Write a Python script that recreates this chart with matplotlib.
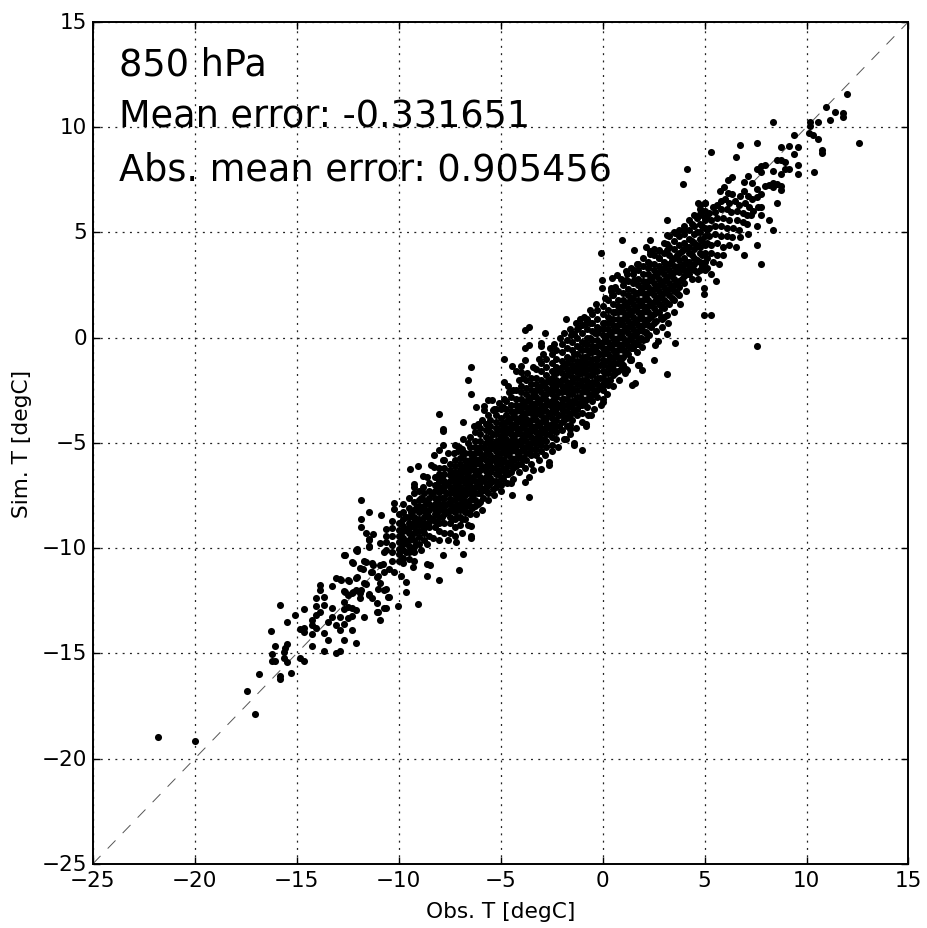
# -*- coding: utf-8 -*-
"""
scatter of simulated against observed temperature at 850 hPa
"""

import matplotlib
matplotlib.use('Agg')
from matplotlib import pyplot as plt

# single points, read one by one (obs, sim)
tail_points = [(-21.8,-18.95),(-20,-19.15),(-17.44,-16.8),(-17.04,-17.9),(-16.85,-16),(-15.84,-12.7),
    (-16.25,-13.95),(-15.45,-13.52),(-15.06,-13.17),(-14.66,-12.87),(-16.04,-14.63),(-15.45,-14.54),
    (-16.23,-15.03),(-15.63,-14.94),(-15.63,-15.2),(-15.45,-15.43),(-16.23,-15.37),(-16.04,-15.37),
    (-15.84,-16.06),(-15.84,-16.2),(-15.26,-15.95),(-14.85,-15.24),(-14.66,-15.37),(-14.85,-13.86),
    (-14.66,-13.8),(-14.66,-14),(-14.27,-14.1),(-14.27,-14.63),(-14.06,-12.35),(-13.67,-12.32),
    (-14.06,-12.75),(-13.67,-12.7),(-13.87,-11.75),(-13.87,-12),(-13.27,-11.78),(-13.07,-11.4),
    (-12.88,-11.46),(-12.47,-11.5),(-13.27,-12.83),(-15.55,-14.75),(-14.27,-13.65),(-14.27,-13.4),
    (-14.06,-13.17),(-13.87,-13.05),(-14.06,-13.78),(-13.46,-13.52),(-13.67,-14.02),(-13.46,-14.36),
    (-13.67,-14.9),(-13.07,-14.97),(-12.88,-14.87),(-13.07,-13.65),(-12.88,-13.25),(-12.88,-13.89),
    (-12.67,-14.36),(-12.09,-14.49),(-12.28,-13.89),(-13.27,-13.25),(-12.67,-13.62),(-12.47,-13.33),
    (-12.28,-13.2),(-12.67,-12.89),(-12.47,-12.78),(-12.28,-12.86),(-12.09,-12.94),(-11.68,-13.29),
    (-11.08,-13.05),(-10.89,-13.41),(-10.7,-12.83)]

low_points = [(-12.67,-12.03),(-12.47,-12.22),(-12.67,-12.54),(-12.28,-12.14),(-12.09,-11.98),(-11.88,-12.14),
    (-12.67,-10.32),(-12.28,-10.67),(-11.88,-10.95),(-12.09,-10.08),(-11.47,-9.92),(-11.47,-9.6),
    (-11.68,-10.6),(-11.31,-10.71),(-11.31,-11.11),(-11.08,-11.35),(-11.68,-11.67),(-12.09,-11.43),
    (-11.88,-12.38),(-11.47,-12.22),(-11.31,-12.38),(-11.08,-12.62),(-10.89,-9.76),(-10.7,-10.16),
    (-10.89,-10.79),(-10.7,-11.11),(-10.89,-11.67),(-10.7,-11.98),(-10.5,-12.3),(-12.43,-11.54),
    (-12.84,-11.5),(-12.64,-12.06),(-12.26,-12.1),(-11.85,-12.0),(-11.44,-12.17),(-11.6,-10.66),
    (-11.28,-10.82),(-11.03,-11.3),(-11.36,-11.14),(-10.79,-10.74),(-10.46,-10.98),(-10.21,-11.14),
    (-9.89,-11.3),(-9.64,-11.62),(-9.64,-12.06),(-10.05,-12.76),(-10.62,-12.85),(-11.03,-13.04),
    (-10.46,-12.3),(-10.62,-11.93),(-11.03,-11.93),(-11.6,-11.7),(-12.02,-11.38),(-11.77,-10.98),
    (-11.84,-7.73),(-11.44,-8.29),(-10.84,-8.45),(-11.84,-8.64),(-11.84,-9),(-11.6,-9.27),(-11.28,-9.32),
    (-11.44,-9.56),(-12.03,-10.03),(-12.03,-10.14),(-11.44,-9.95),(-10.64,-9.43),(-12.64,-10.32),(-12.26,-10.7)]

# stragglers on both sides of the main band
mid_points = [(-6.43,-1.41),(-6.62,-2.01),(-6.43,-2.66),(-8.03,-3.63),(-7.84,-4.33),(-7.84,-4.45),(-6.82,-4.03),
    (-6.82,-4.8),(-6.23,-3.3),(-5.82,-3.25),(-5.82,-3.45),(-5.62,-2.95),(-5.43,-2.98),(-5.38,-3.45),(-5.21,-3.38),
    (-4.84,-1.0),(-4.84,-2.11),(-4.64,-2.31),(-4.84,-2.9),(-4.43,-1.36),(-4.02,-1.36),(-3.8,-1.08),(-4.23,-1.6),
    (-4.02,-1.63),(-3.8,-0.49),(-3.6,-0.33),(-3.8,0.38),(-3.6,0.52),(-2.82,0.2),(-3.02,-0.24),(-3.02,-0.4),
    (-1.8,0.9),(-1.2,0.46),(-0.79,0.67),(-0.6,0.71),(-1.57,0.11),(-1.39,0.19),(-9.03,-12.65),(-8.03,-11.5),
    (-8.62,-11.3),(-7.02,-11.06),(-6.82,-10.27),(-7.84,-10.32),(-8.62,-10.74),(-8.46,-10.79),(-6.43,-8.95),
    (-6.43,-9.4),(-6.43,-9.5),(-4.43,-7.5),(-3.6,-7.58),(-3.82,-6.86),(-3.6,-6.64),(-3,-6.23),(-2.62,-5.91),
    (-2.62,-6.04),(-1,-5.33),(-1.41,-5),(-1.41,-5.12),(-1.8,-4.83),(-0.59,-3.69),(-0.79,-4.09),(-0.79,-4.22),
    (-1.6,-4.17),(-1.6,-4.36),(0,-2.9),(0,-3.06),(1.43,-2.27),(1.59,-2.14),(1.75,-1.32),(1.39,-1.08),(1.18,-1.55),
    (-9.44,-6.26),(-9.03,-6.12),(-8.82,-6.58),(-8.62,-6.64),(-9.23,-6.97),(-9.23,-7.1),(-8.82,-7.1),(-10.21,-7.84),
    (-10.21,-8.13),(-9.8,-7.9),(-8.25,-5.6),(-8.03,-5.36),(-8.41,-6.07),(-8.25,-6.15),(-7.84,-5.09),(-7.26,-5.09),
    (-7.02,-5.2),(-6.82,-5.52),(-7.84,-5.83)]

high_points = [(11.97,11.55),(10.97,10.95),(11.38,10.71),(11.77,10.68),(11.77,10.46),(11.16,10.33),(10.56,10.24),
    (10.16,10.24),(10.16,10.05),(8.36,10.24),(12.59,9.26),(10.13,9.72),(10.33,9.6),(10.56,9.45),(10.77,8.92),
    (10.77,8.75),(10.36,7.85),(9.38,9.6),(7.56,9.22),(6.75,9.16),(5.34,8.83),(6.54,8.56),(8.75,9.03),(9.16,9.1),
    (9.56,9.05),(9.38,8.73),(8.56,8.45),(8.75,8.42),(8.95,8.34),(9.56,8.21),(8.95,8.02),(9.16,7.99),(9.56,7.75),
    (8.75,7.75),(8.36,7.91),(7.56,7.99),(7.75,8.15),(7.95,8.21),(7.75,7.86),(4.15,7.99),(3.95,7.29),(6.36,7.63),
    (6.15,7.47),(7.15,7.66),(6.95,7.39),(7.34,7.34),(7.95,7.2),(8.16,7.26),(8.36,7.36),(8.56,7.31),(8.75,7.2),
    (8.75,7),(8.36,7.15),(5.95,7.15),(5.75,6.96),(6.15,6.88),(6.36,6.8),(6.95,6.96),(6.75,6.72),(7.15,6.72),
    (7.56,7.04),(7.75,6.8),(7.34,6.57),(7.56,6.68),(8.56,6.38),(7.75,6.19),(7.75,5.81),(8.16,5.6),(7.56,5.3),
    (8.36,5.09),(7.56,4.41),(7.75,3.51),(6.95,3.92),(6.54,4.29),(7.15,4.92),(6.75,4.76),(6.36,4.76),(5.34,1.09),
    (4.95,1.09),(7.56,-0.41),(3.15,5.59),(3.54,4.97),(0.93,4.62),(2.34,4.62),(1.54,4.18),(2.13,4.3),(2.34,4.13),
    (-0.07,4.0),(0.93,3.51),(1.74,3.51),(1.13,3.16),(1.52,3.2),(1.13,2.72),(1.52,2.72),(0.7,2.96),(0.46,2.85),
    (-0.03,2.72),(-0.03,2.33),(0.42,2.33),(0.46,2.0),(2.34,3.95),(2.34,3.51),(2.75,4.15),(2.75,3.76),(3.16,4.86),
    (3.16,4.46),(3.16,4.15),(3.98,5.13),(3.15,0.17),(3.54,-0.24),(2.72,-0.17),(2.56,-0.36),(2.13,0.27),(2.13,-0.05),
    (1.93,-0.44),(2.54,-1.06),(1.33,-1.08),(1.77,-1.31),(1.93,-1.55),(1.15,-1.5),(0.92,-1.23),(3.15,-1.72),
    (4.97,2.33),(4.97,2.09),(5.54,2.69),(5.34,3),(3.16,1.09),(2.92,0.9),
    (4.7,6.37),(5.0,6.37),(5.4,6.2),(5.6,6.3),(5.8,6.5),(6.0,6.6),(6.2,6.4),(6.5,6.5),(6.7,6.3),(7.0,6.4),(7.2,6.2),
    (7.4,6.0),(7.6,6.2),(4.8,6.1),(5.2,5.9),(5.5,5.95),(5.8,6.1),(6.1,6.1),(6.3,5.95),(6.6,6.0),(6.9,5.9),(7.1,5.8),
    (7.3,5.8),(4.8,5.85),(5.0,5.7),(5.3,5.6),(5.6,5.7),(5.9,5.7),(6.2,5.6),(6.6,5.6),(6.9,5.5),(7.1,5.4),
    (5.2,5.2),(5.5,5.3),(5.8,5.3),(6.1,5.2),(6.4,5.2),(6.7,5.1),(5.2,4.8),(5.5,4.9),(5.8,4.8),(6.1,4.8),(5.3,4.4),
    (5.6,4.5),(5.9,4.3),(6.2,4.4),(5.3,4.0),(5.6,3.9),(5.9,3.9),(5.4,3.6),(5.7,3.5)]

# upper and lower rim of the dense cloud
upper_rim = [(-7.6,-5.5),(-7.3,-5.5),(-7.1,-5.4),(-6.9,-5.3),(-6.6,-5.0),(-6.3,-4.2),(-6.1,-4.1),(-5.9,-3.9),(-5.6,-3.7),
    (-5.3,-3.4),(-5.1,-3.1),(-4.9,-3.3),(-4.6,-2.6),(-4.4,-2.5),(-4.1,-2.0),(-3.9,-1.9),(-3.7,-1.7),(-3.4,-1.4),(-3.1,-1.0),
    (-2.9,-0.8),(-2.6,-0.5),(-2.4,-0.3),(-2.1,0.0),(-1.9,0.2),(-1.6,0.4),(-1.3,0.7),(-1.1,0.9),(-0.9,1.0),(-0.6,1.3),
    (-0.3,1.6),(0.1,1.9),(0.4,2.2),(0.6,2.4),(0.9,2.8),(1.2,3.0),(1.4,3.3),(1.7,3.5),(2.0,3.8),(2.5,4.2)]

lower_rim = [(-9.3,-10.9),(-8.9,-10.1),(-8.6,-9.8),(-8.3,-9.5),(-8.0,-9.6),(-7.6,-9.6),(-7.2,-9.7),(-6.9,-9.3),(-6.6,-8.9),
    (-6.2,-8.4),(-5.9,-8.2),(-5.6,-7.7),(-5.3,-7.5),(-5.0,-7.3),(-4.7,-6.9),(-4.4,-6.7),(-4.1,-6.4),(-3.8,-6.2),(-3.4,-6.3),
    (-3.1,-5.8),(-2.8,-5.6),(-2.5,-5.4),(-2.2,-5.2),(-1.9,-4.8),(-1.6,-4.6),(-1.3,-4.3),(-1,-4.0),(-0.7,-3.7),(-0.4,-3.4),
    (-0.1,-3.2),(0.2,-2.7),(0.5,-2.3),(0.8,-2.0),(1.1,-1.7),(1.4,-1.0),(1.7,-0.7),(2.0,-0.1),(2.3,0.1),(2.6,0.3),(2.9,0.5),
    (3.2,0.7),(3.5,1.2),(3.8,1.6),(4.1,2.2),(4.4,2.8),(4.7,2.8)]

# dense band, obs value with the sim values stacked above it
band_west = [(-10.6,[-9.1,-9.7,-10.1]),(-10.32,[-8.7,-9.05,-9.4,-9.85,-10.2,-10.6]),
    (-10.0,[-8.4,-8.8,-9.15,-9.4,-9.7,-10.05,-10.3,-10.6]),(-9.77,[-8.3,-8.6,-8.95,-9.2,-9.5,-9.8,-10.1,-10.45,-10.7]),
    (-9.5,[-7.6,-8.1,-8.5,-8.8,-9.05,-9.3,-9.6,-9.9,-10.2,-10.5]),(-9.24,[-7.4,-7.8,-8.2,-8.5,-8.75,-9.0,-9.3,-9.6,-9.95,-10.2,-10.6]),
    (-9.0,[-7.3,-7.7,-8.0,-8.3,-8.6,-8.9,-9.2,-9.45,-9.8]),(-8.77,[-7.4,-7.7,-8.0,-8.25,-8.5,-8.8,-9.05,-9.3,-9.6]),
    (-8.5,[-6.9,-7.3,-7.6,-7.9,-8.2,-8.5,-8.75,-9.0,-9.4]),(-8.23,[-6.6,-7.0,-7.3,-7.6,-7.9,-8.15,-8.4,-8.7,-9.0]),
    (-8.0,[-6.2,-6.5,-6.8,-7.1,-7.35,-7.6,-7.9,-8.2,-8.5,-8.8,-9.2]),(-7.76,[-5.8,-6.2,-6.5,-6.8,-7.05,-7.3,-7.6,-7.9,-8.15,-8.4,-8.8,-9.3]),
    (-7.5,[-6.0,-6.3,-6.55,-6.8,-7.1,-7.4,-7.65,-7.9,-8.2,-8.5,-8.8,-9.3]),(-7.24,[-5.8,-6.1,-6.4,-6.65,-6.9,-7.2,-7.45,-7.7,-8.0,-8.3,-8.6,-9.0,-9.4]),
    (-7.0,[-5.7,-6.0,-6.3,-6.55,-6.8,-7.1,-7.35,-7.6,-7.9,-8.2,-8.5,-8.9]),(-6.76,[-5.5,-5.8,-6.1,-6.4,-6.65,-6.9,-7.2,-7.5,-7.75,-8.0,-8.3,-8.6]),
    (-6.5,[-4.7,-5.2,-5.5,-5.8,-6.05,-6.3,-6.6,-6.85,-7.1,-7.4,-7.7,-8.0,-8.4]),(-6.25,[-4.5,-4.9,-5.2,-5.5,-5.75,-6.0,-6.3,-6.55,-6.8,-7.1,-7.4,-7.7,-8.0]),
    (-6.0,[-4.3,-4.6,-4.9,-5.2,-5.5,-5.75,-6.0,-6.3,-6.6,-6.85,-7.1,-7.4,-7.8]),(-5.74,[-4.1,-4.4,-4.7,-5.0,-5.3,-5.55,-5.8,-6.1,-6.35,-6.6,-6.9,-7.15,-7.3]),
    (-5.5,[-3.9,-4.2,-4.5,-4.8,-5.05,-5.3,-5.6,-5.85,-6.1,-6.4,-6.65,-6.9])]

band_centre = [(-5.25,[-3.7,-4.0,-4.3,-4.6,-4.9,-5.15,-5.4,-5.65,-5.9,-6.2,-6.5,-6.8,-7.1]),(-5.0,[-3.4,-3.8,-4.1,-4.4,-4.7,-4.95,-5.2,-5.5,-5.75,-6.0,-6.3,-6.6,-7.0]),
    (-4.75,[-3.0,-3.4,-3.7,-4,-4.3,-4.55,-4.8,-5.1,-5.35,-5.6,-5.9,-6.2,-6.5]),(-4.5,[-2.8,-3.2,-3.5,-3.8,-4.1,-4.35,-4.6,-4.9,-5.15,-5.4,-5.7,-6.0,-6.4,-6.9]),
    (-4.26,[-2.5,-2.9,-3.2,-3.5,-3.8,-4.05,-4.3,-4.6,-4.9,-5.15,-5.4,-5.7,-6.1]),(-4.0,[-2.3,-2.6,-2.9,-3.2,-3.5,-3.75,-4.0,-4.3,-4.6,-4.85,-5.1,-5.4,-5.7,-6.0]),
    (-3.75,[-2.0,-2.4,-2.7,-3,-3.3,-3.6,-3.85,-4.1,-4.4,-4.65,-4.9,-5.2,-5.5,-5.8]),(-3.5,[-1.9,-2.2,-2.5,-2.8,-3.1,-3.35,-3.6,-3.9,-4.2,-4.45,-4.7,-5,-5.3,-5.6,-6.0]),
    (-3.24,[-1.5,-1.9,-2.2,-2.5,-2.8,-3.1,-3.4,-3.65,-3.9,-4.2,-4.5,-4.75,-5,-5.3,-5.6]),(-3.0,[-1.2,-1.6,-2,-2.3,-2.6,-2.9,-3.2,-3.45,-3.7,-4,-4.3,-4.55,-4.8,-5.1,-5.4]),
    (-2.75,[-1.0,-1.4,-1.8,-2.1,-2.4,-2.7,-2.95,-3.2,-3.5,-3.8,-4.05,-4.3,-4.6,-4.9,-5.2]),(-2.5,[-0.8,-1.2,-1.6,-1.9,-2.2,-2.45,-2.7,-3,-3.3,-3.55,-3.8,-4.1,-4.4,-4.7,-5.1]),
    (-2.26,[-0.6,-1,-1.4,-1.7,-2,-2.25,-2.5,-2.8,-3.1,-3.35,-3.6,-3.9,-4.2,-4.5,-4.8]),(-2.0,[-0.3,-0.7,-1.1,-1.4,-1.7,-2,-2.3,-2.6,-2.9,-3.15,-3.4,-3.7,-4,-4.4]),
    (-1.75,[-0.1,-0.5,-0.9,-1.2,-1.5,-1.8,-2.1,-2.35,-2.6,-2.9,-3.2,-3.5,-3.8,-4.2]),(-1.5,[0.2,-0.2,-0.6,-1,-1.3,-1.6,-1.85,-2.1,-2.4,-2.7,-3,-3.3,-3.6,-3.9]),
    (-1.24,[0.4,0,-0.4,-0.8,-1.1,-1.4,-1.65,-1.9,-2.2,-2.5,-2.8,-3.1,-3.4,-3.7]),(-1.0,[0.6,0.2,-0.2,-0.6,-0.9,-1.15,-1.4,-1.7,-2,-2.3,-2.6,-2.9,-3.2,-3.6]),
    (-0.75,[0.9,0.4,0,-0.3,-0.6,-0.9,-1.2,-1.5,-1.8,-2.05,-2.3,-2.6,-2.9,-3.3]),(-0.5,[1.1,0.7,0.3,-0.1,-0.4,-0.7,-1,-1.3,-1.55,-1.8,-2.1,-2.4,-2.7,-3.0]),
    (-0.25,[1.3,0.9,0.5,0.2,-0.1,-0.4,-0.7,-1,-1.3,-1.6,-1.9,-2.2,-2.5,-2.8])]

band_east = [(0.0,[1.5,1.1,0.7,0.4,0.1,-0.2,-0.5,-0.8,-1.05,-1.3,-1.6,-1.9,-2.2,-2.5]),(0.25,[1.8,1.3,1,0.7,0.4,0.1,-0.2,-0.5,-0.8,-1.1,-1.4,-1.7,-2,-2.25]),
    (0.5,[2,1.6,1.2,0.9,0.6,0.3,0,-0.3,-0.6,-0.9,-1.2,-1.5,-1.8]),(0.76,[2.2,1.8,1.5,1.2,0.9,0.6,0.3,0,-0.3,-0.6,-0.9,-1.2,-1.6]),
    (1.0,[2.5,2.1,1.8,1.5,1.2,0.9,0.6,0.3,0,-0.3,-0.6,-0.9,-1.3]),(1.25,[2.7,2.3,2,1.7,1.4,1.1,0.8,0.5,0.2,-0.1,-0.4,-0.8]),
    (1.5,[3,2.6,2.2,1.9,1.6,1.3,1,0.7,0.4,0.1,-0.2,-0.5]),(1.74,[3.2,2.8,2.5,2.1,1.8,1.5,1.2,0.9,0.6,0.3,0,-0.3]),
    (2.0,[3.4,3,2.7,2.4,2.1,1.8,1.5,1.2,0.9,0.6,0.3]),(2.25,[3.6,3.3,3,2.7,2.4,2.1,1.8,1.5,1.2,0.9,0.6]),
    (2.5,[3.9,3.5,3.2,2.9,2.6,2.3,2,1.7,1.4,1.1,0.7]),(2.76,[4.1,3.8,3.4,3.1,2.8,2.5,2.2,1.9,1.6,1.2]),
    (3.0,[4.5,4,3.6,3.3,3,2.7,2.4,2.1,1.8,1.4,1.0]),(3.25,[4.8,4.3,3.9,3.5,3.2,2.9,2.6,2.3,2,1.6]),
    (3.5,[5,4.6,4.2,3.8,3.4,3.1,2.8,2.5,2.2,1.8]),(3.74,[5.1,4.8,4.4,4,3.7,3.4,3.1,2.7,2.4,2]),
    (4.0,[5.3,4.9,4.5,4.2,3.8,3.5,3.2,2.9,2.6]),(4.25,[5.6,5.1,4.7,4.3,4,3.6,3.3,3]),
    (4.5,[5.8,5.3,4.9,4.5,4.2,3.8,3.5,3.2]),(4.76,[6.3,5.8,5.4,5,4.7,4.3,4,3.6,3.2]),
    (5.0,[6.4,6,5.6,5.2,4.8,4.4,4,3.6,3.2])]

# points that sit between the columns above, the cloud is solid here
fill_west = [(-9.88,[-8.8,-9.4,-10.0]),(-9.63,[-8.5,-9.1,-9.7,-10.2]),(-9.38,[-8.3,-8.9,-9.5,-10]),(-9.13,[-8.1,-8.6,-9.2,-9.8]),
    (-8.88,[-7.6,-8.2,-8.8]),(-8.63,[-7.8,-8.4,-8.9]),(-8.38,[-7.4,-8,-8.6]),(-8.13,[-7.2,-7.7,-8.3]),
    (-7.88,[-6.6,-7.1,-7.6,-8.1,-8.5]),(-7.63,[-6.9,-7.4,-7.9,-8.3]),(-7.38,[-6.7,-7.2,-7.7,-8.2,-8.6]),(-7.13,[-6.5,-7,-7.5,-8,-8.5]),
    (-6.88,[-6.2,-6.7,-7.2,-7.6,-8.1,-8.6]),(-6.63,[-5.9,-6.4,-6.9,-7.4,-7.9,-8.3]),(-6.38,[-5.6,-6.1,-6.7,-7.2,-7.6,-8.1]),
    (-6.13,[-5.4,-5.9,-6.4,-6.9,-7.4,-7.9]),(-5.88,[-5.2,-5.7,-6.2,-6.7,-7.2,-7.6]),(-5.63,[-4.9,-5.4,-5.9,-6.5,-7.0,-7.4]),
    (-5.38,[-4.6,-5.1,-5.7,-6.2,-6.8,-7.2]),(-5.13,[-4.4,-4.9,-5.5,-6.0,-6.5,-6.9])]

fill_centre = [(-4.88,[-4.1,-4.6,-5.2,-5.8,-6.3,-6.7]),(-4.63,[-3.9,-4.4,-5.0,-5.5,-6.0,-6.5]),(-4.38,[-3.6,-4.2,-4.7,-5.3,-5.8,-6.2]),
    (-4.13,[-3.4,-3.9,-4.5,-5.0,-5.5,-6.0]),(-3.88,[-3.2,-3.7,-4.2,-4.8,-5.3,-5.7]),(-3.63,[-2.9,-3.5,-4.0,-4.5,-5.1,-5.5]),
    (-3.38,[-2.7,-3.2,-3.8,-4.3,-4.8,-5.3]),(-3.13,[-2.4,-3.0,-3.5,-4.1,-4.6,-5.0]),(-2.88,[-2.2,-2.8,-3.3,-3.8,-4.4,-4.8]),
    (-2.63,[-2.0,-2.5,-3.1,-3.6,-4.2,-4.6]),(-2.38,[-1.7,-2.3,-2.9,-3.4,-3.9,-4.4]),(-2.13,[-1.5,-2.1,-2.6,-3.2,-3.7,-4.2]),
    (-1.88,[-1.3,-1.9,-2.4,-2.9,-3.5,-3.9]),(-1.63,[-1.0,-1.6,-2.2,-2.7,-3.2,-3.7]),(-1.38,[-0.8,-1.4,-1.9,-2.5,-3.0,-3.5]),
    (-1.13,[-0.5,-1.2,-1.7,-2.2,-2.8,-3.2]),(-0.88,[-0.3,-0.9,-1.5,-2.0,-2.5,-3.0]),(-0.63,[0.0,-0.7,-1.2,-1.8,-2.3,-2.8]),
    (-0.38,[0.2,-0.5,-1.0,-1.6,-2.1,-2.6]),(-0.13,[0.4,-0.3,-0.8,-1.3,-1.9,-2.4])]

fill_east = [(0.13,[0.7,0,-0.6,-1.1,-1.7,-2.2]),(0.38,[0.9,0.2,-0.4,-0.9,-1.4,-2]),(0.63,[1.2,0.5,-0.1,-0.7,-1.2,-1.7]),
    (0.88,[1.4,0.7,0.1,-0.4,-1,-1.5]),(1.13,[1.6,1,0.4,-0.2,-0.7]),(1.38,[1.9,1.2,0.6,0,-0.5]),(1.63,[2.1,1.4,0.8,0.2,-0.3]),
    (1.88,[2.3,1.7,1,0.5,0]),(2.13,[2.6,1.9,1.3,0.7,0.2]),(2.38,[2.8,2.2,1.6,1,0.5]),(2.63,[3,2.4,1.8,1.2,0.8]),
    (2.88,[3.2,2.6,2,1.5,1]),(3.13,[3.5,2.8,2.2,1.7]),(3.38,[3.7,3,2.4,1.9]),(3.63,[3.9,3.2,2.6,2.1]),(3.88,[4.1,3.4,2.8]),
    (4.13,[4.3,3.6,3.0]),(4.38,[5.4,4.6,3.9,3.3]),(4.63,[5.7,5,4.4,3.7,3.1]),(4.88,[6,5.3,4.6,3.9,3.4]),(5.12,[5.8,5.1,4.5,3.8,3.3])]

tick_values = [-25, -20, -15, -10, -5, 0, 5, 10, 15]
info_lines = ['850 hPa', 'Mean error: -0.331651', 'Abs. mean error: 0.905456']
info_heights = [12.5, 10, 7.5]
line_ends = [-25, 15]

obs = []
sim = []
for group in [tail_points, low_points, mid_points, high_points, upper_rim, lower_rim]:
    for o, s in group:
        obs.append(o)
        sim.append(s)
for band in [band_west, band_centre, band_east, fill_west, fill_centre, fill_east]:
    for o, stack in band:
        for s in stack:
            obs.append(o)
            sim.append(s)

plt.style.use('classic')
fig = plt.figure(figsize=(9.28, 9.29), dpi=100, facecolor='white')
ax = fig.add_axes([92.7/928, 1-865/929, (908.5-92.7)/928, (865-22.7)/929])

ax.plot(line_ends, line_ends, color='#555555', lw=0.7, dashes=(8.1, 7.4), zorder=1)
ax.scatter(obs, sim, s=26, c='k', edgecolors='k', linewidths=0, zorder=3)

ax.set_xlim(-25, 15)
ax.set_ylim(-25, 15)
ax.set_xticks(tick_values)
ax.set_yticks(tick_values)
ax.tick_params(labelsize=15.5, width=1, length=5)
ax.grid(True, color='#222222', linestyle=(0, (1.4, 3.85)), linewidth=0.9, zorder=0)
ax.set_axisbelow(True)
for spine in ax.spines.values():
    spine.set_linewidth(1.4)

ax.set_xlabel('Obs. T [degC]', fontsize=15.6, labelpad=8)
ax.set_ylabel('Sim. T [degC]', fontsize=15.6, labelpad=7)

for label, height in zip(info_lines, info_heights):
    ax.text(-23.7, height, label, fontsize=26.4, color='k', zorder=4)

fig.savefig('out.png', dpi=100)
